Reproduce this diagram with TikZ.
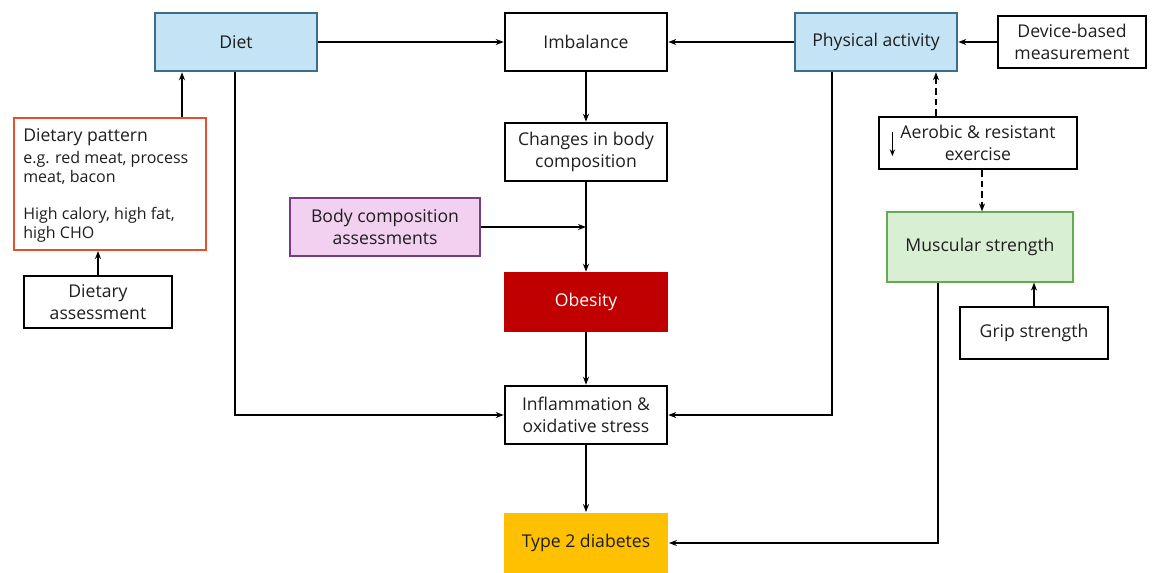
\documentclass[tikz,border=0pt]{standalone}
\usepackage{fontspec}
\setmainfont{Open Sans}
\usetikzlibrary{positioning, arrows.meta, calc}

\definecolor{dietblue}{RGB}{196,228,245}
\definecolor{dietline}{RGB}{60,110,140}
\definecolor{patline}{RGB}{224,82,46}
\definecolor{bcpink}{RGB}{242,208,240}
\definecolor{bcline}{RGB}{120,60,130}
\definecolor{musgreen}{RGB}{216,239,211}
\definecolor{musline}{RGB}{100,170,80}
\definecolor{obered}{RGB}{192,0,0}
\definecolor{t2dgold}{RGB}{255,192,0}
\definecolor{txt}{RGB}{30,30,30}

\begin{document}
\begin{tikzpicture}[x=0.75pt, y=-0.75pt, >={Stealth[length=6pt,width=4.5pt]},
   block/.style={draw, line width=1.4pt, minimum width=122pt, minimum height=44pt,
      align=center, inner sep=2pt, text=txt, font=\fontsize{13.2}{17}\selectfont},
   small/.style={block, minimum width=111pt, minimum height=39pt},
   link/.style={->, line width=1.2pt},
   dlink/.style={link, dash pattern=on 5pt off 3pt}]
   \useasboundingbox (0,0) rectangle (1152,572);

   % Diet side
   \node[block, fill=dietblue, draw=dietline] (diet) at (236,42) {Diet};
   \node[block, draw=patline, minimum width=144pt, minimum height=99pt] (dietpat) at (110,184) {};
   \node[anchor=north west, align=left, inner sep=0pt, text=txt, font=\fontsize{12}{14.5}\selectfont]
      (pattext) at ($(dietpat.north west)+(10,11)$)
      {{\fontsize{13.2}{17}\selectfont Dietary pattern}\\[2pt]e.g. red meat, process\\meat, bacon\\[13pt]High calory, high fat,\\high CHO};
   \node[small] (dietass) at (98,302) {Dietary\\assessment};

   % Central chain
   \node[block] (imbal) at (586,42) {Imbalance};
   \node[block] (change) at (586,152) {Changes in body\\composition};
   \node[block, fill=bcpink, draw=bcline, minimum width=142pt] (bodyass) at (385,227) {Body composition\\assessments};
   \node[block, fill=obered, draw=obered, text=white] (obese) at (586,302) {Obesity};
   \node[block] (inflam) at (586,415) {Inflammation \&\\oxidative stress};
   \node[block, fill=t2dgold, draw=none, minimum width=123pt, minimum height=45pt] (t2d) at (586,543) {Type 2 diabetes};

   % Physical activity side
   \node[block, fill=dietblue, draw=dietline] (phys) at (876,42) {Physical activity};
   \node[small] (device) at (1072,42) {Device-based\\measurement};
   \node[small, minimum width=148pt] (aerob) at (978,143) {Aerobic \& resistant\\exercise};
   \node[block, fill=musgreen, draw=musline, minimum width=139pt, minimum height=52pt] (muscle) at (980,247) {Muscular strength};
   \node[small] (grip) at (1034,333) {Grip strength};

   % Link anchors
   \coordinate (patout) at ($(dietpat.north)+(72,0)$);
   \coordinate (dietdown) at ($(diet.south)+(-1,0)$);
   \coordinate (physdown) at ($(phys.south)+(-44,0)$);
   \coordinate (musdown) at ($(muscle.south)+(-42,0)$);
   \coordinate (aerobup) at ($(aerob.north)+(-42,0)$);
   \coordinate (aerobdown) at ($(aerob.south)+(4,0)$);

   % Links
   \draw[link] (diet) -- (imbal);
   \draw[link] (phys) -- (imbal);
   \draw[link] (device) -- (phys);
   \draw[link] (patout) -- (patout |- diet.south);
   \draw[link] (dietass.north) -- (dietass.north |- dietpat.south);
   \draw[link] (imbal) -- (change);
   \draw[link] (change) -- (obese);
   \draw[link] (bodyass.east) -- (bodyass.east -| change.south);
   \draw[link] (obese) -- (inflam);
   \draw[link] (inflam) -- (t2d);
   \draw[link] (dietdown) |- (inflam.west);
   \draw[link] (physdown) |- (inflam.east);
   \draw[link] (musdown) |- (t2d.east);
   \draw[link] (grip.north) -- (grip.north |- muscle.south);
   \draw[dlink] (aerobup) -- (aerobup |- phys.south);
   \draw[dlink] (aerobdown) -- (aerobdown |- muscle.north);
   \draw[->, line width=1.1pt, >={Stealth[length=5pt,width=4pt]}] ($(aerob.west)+(14,-11)$) -- ($(aerob.west)+(14,13)$);
\end{tikzpicture}
\end{document}
